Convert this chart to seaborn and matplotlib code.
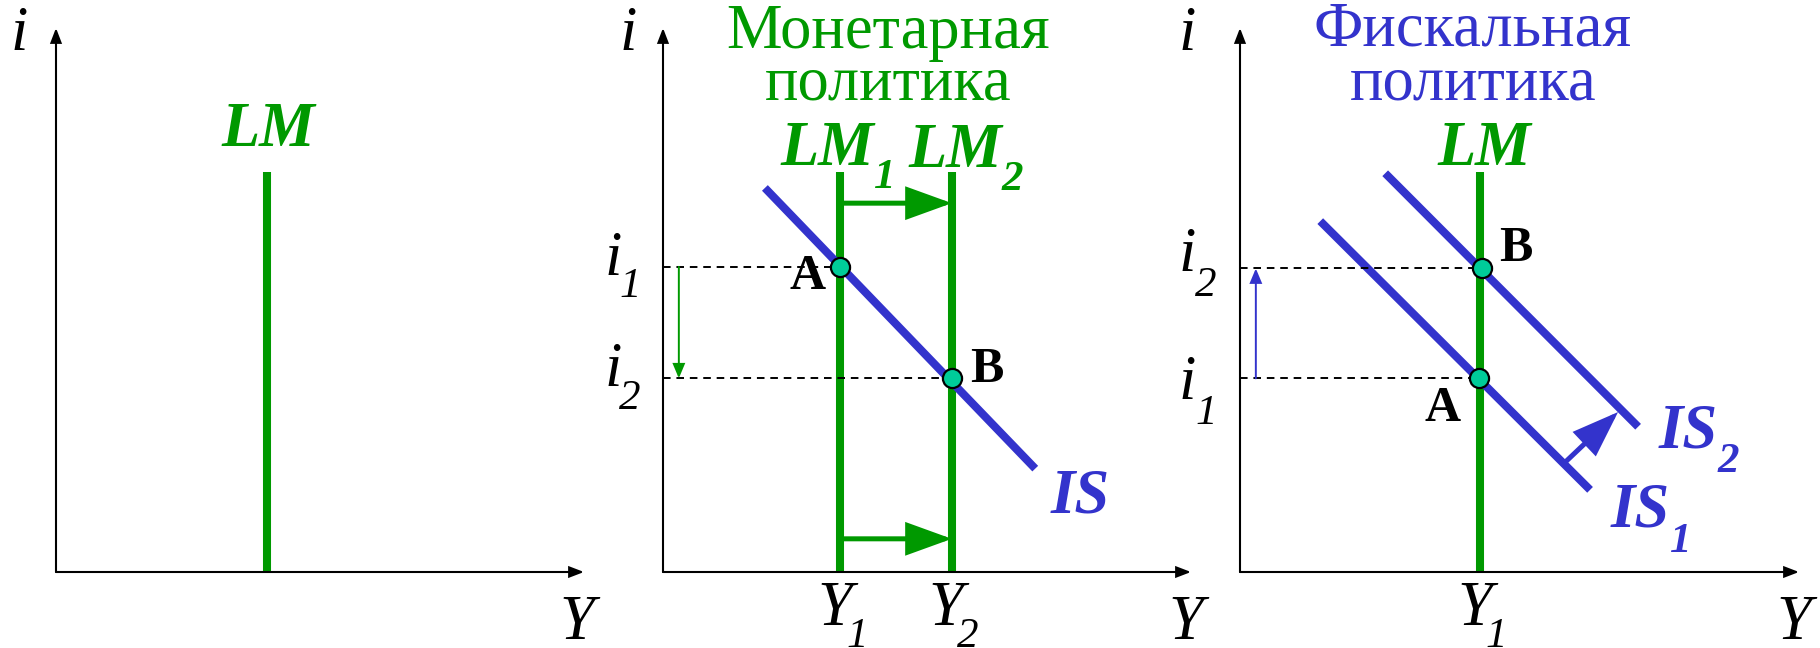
import matplotlib
matplotlib.use("Agg")
import matplotlib.pyplot as plt
import seaborn as sns
from matplotlib.patches import FancyArrowPatch

sns.set_style("white")
plt.rcParams["font.family"] = "Liberation Serif"
SERIF = "Liberation Serif"

GREEN = "#009900"
BLUE = "#3333cc"
DOT = "#00cc99"

# ---- data (economic units on each panel, Y across, i up) ----
# panel 1: plain LM
lm_p1_x = 4.0
lm_top = 7.36

# panel 2: monetary policy
lm1_x = 3.35
lm2_x = 5.47
is_x = [1.93, 7.05]
is_y = [7.06, 1.90]
mon_points_x = [3.35, 5.47]      # A, B
mon_points_y = [5.61, 3.56]
mon_shift_y = [6.78, 0.61]       # heights of the LM1 -> LM2 arrows

# panel 3: fiscal policy
lm_p3_x = 4.55
is1_x = [1.52, 6.63]
is1_y = [6.45, 1.51]
is2_x = [2.75, 7.54]
is2_y = [7.33, 2.67]
fis_points_x = [4.52, 4.58]      # A, B
fis_points_y = [3.56, 5.58]
is_shift_x = [6.16, 7.16]
is_shift_y = [2.02, 2.94]

MAIN = 45
SUB = 31
PT = 36


def arrow(ax, p0, p1, color, lw, hl, hw, z=4):
    a = FancyArrowPatch(p0, p1, arrowstyle=f"-|>,head_length={hl},head_width={hw}",
                        mutation_scale=1, color=color, lw=lw, shrinkA=0, shrinkB=0,
                        clip_on=False, zorder=z, joinstyle="miter")
    ax.add_patch(a)


def txt(ax, x, y, s, size=MAIN, color="black", style="italic", weight="normal"):
    ax.text(x, y, s, fontsize=size, color=color, fontstyle=style, family=SERIF,
            fontweight=weight, ha="center", va="baseline")


def frame(ax, xmax):
    ax.set_xlim(0, xmax)
    ax.set_ylim(0, 10)
    ax.set_axis_off()
    arrow(ax, (0, 0), (xmax, 0), "black", 1.5, 8.6, 3.3, z=3)
    arrow(ax, (0, 0), (0, 10), "black", 1.5, 8.6, 3.3, z=3)


def vline(ax, x, color=GREEN):
    sns.lineplot(x=[x, x], y=[0, lm_top], ax=ax, color=color, lw=5.8,
                 estimator=None, sort=False, solid_capstyle="butt", clip_on=False)


def line(ax, xs, ys, color=BLUE):
    sns.lineplot(x=xs, y=ys, ax=ax, color=color, lw=5.8, estimator=None,
                 sort=False, solid_capstyle="butt", clip_on=False)


def dashed(ax, x, y):
    ax.plot([0, x], [y, y], color="black", lw=1.4, ls=(0, (3.9, 3.0)),
            clip_on=False, zorder=3)


fig = plt.figure(figsize=(18.2, 6.48), dpi=100)
W, H = 1820, 648
ax1 = fig.add_axes([56 / W, 76 / H, 528 / W, 544 / H])
ax2 = fig.add_axes([663 / W, 76 / H, 528 / W, 544 / H])
ax3 = fig.add_axes([1240 / W, 76 / H, 559 / W, 544 / H])

# ---- panel 1 ----
frame(ax1, 10)
vline(ax1, lm_p1_x)
txt(ax1, 4.03, 7.84, "LM", color=GREEN, weight="bold")
txt(ax1, -0.70, 9.60, "i")
txt(ax1, 9.87, -1.23, "Y")

# ---- panel 2 ----
frame(ax2, 10)
vline(ax2, lm1_x)
vline(ax2, lm2_x)
line(ax2, is_x, is_y)
for y in mon_shift_y:
    arrow(ax2, (lm1_x, y), (lm2_x, y), GREEN, 3.6, 26.5, 9.6)
for x, y in zip(mon_points_x, mon_points_y):
    dashed(ax2, x, y)
arrow(ax2, (0.30, mon_points_y[0]), (0.30, mon_points_y[1]), GREEN, 1.4, 8.6, 3.6)
sns.scatterplot(x=mon_points_x, y=mon_points_y, ax=ax2, s=190, color=DOT,
                edgecolor="black", linewidth=1.6, zorder=6, clip_on=False)
txt(ax2, 4.26, 9.64, "Монетарная", color=GREEN, style="normal")
txt(ax2, 4.26, 8.69, "политика", color=GREEN, style="normal")
txt(ax2, 3.12, 7.48, "LM", color=GREEN, weight="bold")
txt(ax2, 4.20, 7.06, "1", size=SUB, color=GREEN, weight="bold")
txt(ax2, 5.54, 7.44, "LM", color=GREEN, weight="bold")
txt(ax2, 6.61, 7.02, "2", size=SUB, color=GREEN, weight="bold")
txt(ax2, 7.90, 1.10, "IS", color=BLUE, weight="bold")
txt(ax2, 2.73, 5.20, "A", size=PT, style="normal", weight="bold")
txt(ax2, 6.14, 3.49, "B", size=PT, style="normal", weight="bold")
txt(ax2, 3.26, -0.97, "Y")
txt(ax2, 3.67, -1.38, "1", size=SUB)
txt(ax2, 5.36, -0.97, "Y")
txt(ax2, 5.78, -1.38, "2", size=SUB)
txt(ax2, -0.66, 9.60, "i")
txt(ax2, -0.95, 5.46, "i")
txt(ax2, -0.63, 5.05, "1", size=SUB)
txt(ax2, -0.95, 3.42, "i")
txt(ax2, -0.63, 3.00, "2", size=SUB)
txt(ax2, 9.91, -1.23, "Y")

# ---- panel 3 ----
frame(ax3, 559 / 52.8)
vline(ax3, lm_p3_x)
line(ax3, is1_x, is1_y)
line(ax3, is2_x, is2_y)
arrow(ax3, (is_shift_x[0], is_shift_y[0]), (is_shift_x[1], is_shift_y[1]), BLUE, 3.6, 26.5, 9.6)
for x, y in zip(fis_points_x, fis_points_y):
    dashed(ax3, x, y)
arrow(ax3, (0.30, fis_points_y[0]), (0.30, fis_points_y[1]), BLUE, 1.4, 8.6, 3.6)
sns.scatterplot(x=fis_points_x, y=fis_points_y, ax=ax3, s=190, color=DOT,
                edgecolor="black", linewidth=1.6, zorder=6, clip_on=False)
txt(ax3, 4.41, 9.68, "Фискальная", color=BLUE, style="normal")
txt(ax3, 4.41, 8.69, "политика", color=BLUE, style="normal")
txt(ax3, 4.62, 7.49, "LM", color=GREEN, weight="bold")
txt(ax3, 5.23, 5.72, "B", size=PT, style="normal", weight="bold")
txt(ax3, 3.84, 2.77, "A", size=PT, style="normal", weight="bold")
txt(ax3, 8.48, 2.28, "IS", color=BLUE, weight="bold")
txt(ax3, 9.24, 1.84, "2", size=SUB, color=BLUE, weight="bold")
txt(ax3, 7.58, 0.83, "IS", color=BLUE, weight="bold")
txt(ax3, 8.35, 0.37, "1", size=SUB, color=BLUE, weight="bold")
txt(ax3, 4.45, -0.97, "Y")
txt(ax3, 4.85, -1.38, "1", size=SUB)
txt(ax3, 10.49, -1.23, "Y")
txt(ax3, -1.00, 9.60, "i")
txt(ax3, -1.00, 5.53, "i")
txt(ax3, -0.64, 5.07, "2", size=SUB)
txt(ax3, -1.00, 3.18, "i")
txt(ax3, -0.64, 2.72, "1", size=SUB)

fig.savefig("out.png", dpi=100, facecolor="white")
